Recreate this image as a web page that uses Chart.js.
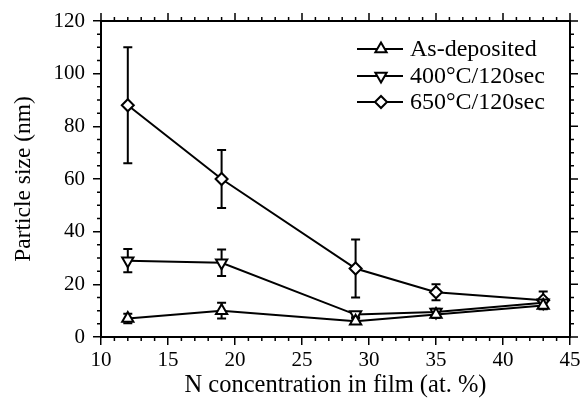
<!DOCTYPE html>
<html>
<head>
<meta charset="utf-8">
<script src="https://cdn.jsdelivr.net/npm/chart.js@4.4.0/dist/chart.umd.min.js"></script>
<style>
    html, body { margin: 0; padding: 0; background: #fff; }
    #contenitore { width: 587px; height: 400px; }
</style>
</head>
<body>
<div id="contenitore"><canvas id="grafico" width="587" height="400"></canvas></div>
<script>
// dati
var concentrazioni = [12, 19, 29, 35, 43];
var etichetteSerie = ['As-deposited', '400°C/120sec', '650°C/120sec'];
var asDeposited = [7, 10, 6, 8.5, 12];
var asDepositedErr = [1.8, 3, 1, 1.3, 1.5];
var ricotto400 = [29, 28.2, 8.5, 9.5, 13];
var ricotto400Err = [4.4, 5, 1, 1.2, 1.5];
var ricotto650 = [88, 60, 26, 17, 14];
var ricotto650Err = [22, 11, 11, 3, 3.3];
var tickX = [10, 15, 20, 25, 30, 35, 40, 45];
var tickY = [0, 20, 40, 60, 80, 100, 120];

var font = 'Liberation Serif';

function costruttorePunti(valori, errori) {
    var punti = [];
    for (var i = 0; i < concentrazioni.length; i++) {
        punti.push({x: concentrazioni[i], y: valori[i], err: errori[i]});
    }
    return punti;
}

function serie(label, valori, errori, stile, rotazione) {
    return {
        label: label,
        data: costruttorePunti(valori, errori),
        borderColor: '#000',
        borderWidth: 2,
        backgroundColor: '#fff',
        pointStyle: stile,
        pointRotation: rotazione,
        pointRadius: stile === 'rectRot' ? 6 : 6.5,
        pointBorderWidth: 2,
        pointBackgroundColor: '#fff',
        pointBorderColor: '#000',
        tension: 0,
        fill: false
    };
}

// barre di errore disegnate sotto i marker
var barreErrore = {
    id: 'barreErrore',
    beforeDatasetsDraw: function (chart) {
        var ctx = chart.ctx;
        var sx = chart.scales.x, sy = chart.scales.y;
        ctx.save();
        ctx.strokeStyle = '#000';
        ctx.lineWidth = 2;
        chart.data.datasets.forEach(function (ds) {
            ds.data.forEach(function (p) {
                var px = sx.getPixelForValue(p.x);
                var alto = sy.getPixelForValue(p.y + p.err);
                var basso = sy.getPixelForValue(p.y - p.err);
                ctx.beginPath();
                ctx.moveTo(px, alto); ctx.lineTo(px, basso);
                ctx.moveTo(px - 4.5, alto); ctx.lineTo(px + 4.5, alto);
                ctx.moveTo(px - 4.5, basso); ctx.lineTo(px + 4.5, basso);
                ctx.stroke();
            });
        });
        ctx.restore();
    }
};

// cornice, tacche secondarie e legenda
var cornice = {
    id: 'cornice',
    afterDraw: function (chart) {
        var ctx = chart.ctx;
        var a = chart.chartArea;
        var sx = chart.scales.x, sy = chart.scales.y;
        ctx.save();
        ctx.strokeStyle = '#000';
        ctx.lineWidth = 2;
        ctx.strokeRect(a.left, a.top, a.right - a.left, a.bottom - a.top);

        ctx.lineWidth = 1.5;
        ctx.beginPath();
        for (var v = 10; v <= 45; v++) {
            var px = sx.getPixelForValue(v);
            var lung = (v % 5 === 0) ? 8 : 4;
            if (v % 5 !== 0) {
                ctx.moveTo(px, a.bottom); ctx.lineTo(px, a.bottom + lung);
            }
            ctx.moveTo(px, a.top); ctx.lineTo(px, a.top - lung);
        }
        for (var w = 0; w <= 120; w += 5) {
            var py = sy.getPixelForValue(w);
            var l2 = (w % 20 === 0) ? 8 : 4;
            if (w % 20 !== 0) {
                ctx.moveTo(a.left, py); ctx.lineTo(a.left - l2, py);
            }
            ctx.moveTo(a.right, py); ctx.lineTo(a.right + l2, py);
        }
        ctx.stroke();

        // legenda
        var righe = [49, 76, 102];
        ctx.font = '24px "' + font + '"';
        ctx.textBaseline = 'middle';
        chart.data.datasets.forEach(function (ds, i) {
            var y = righe[i];
            ctx.lineWidth = 2;
            ctx.strokeStyle = '#000';
            ctx.beginPath();
            ctx.moveTo(357, y); ctx.lineTo(403, y);
            ctx.stroke();
            ctx.fillStyle = '#fff';
            Chart.helpers.drawPoint(ctx, {
                pointStyle: ds.pointStyle,
                rotation: ds.pointRotation,
                radius: ds.pointRadius,
                borderWidth: 2
            }, 381, y);
            ctx.fillStyle = '#000';
            ctx.fillText(ds.label, 410, y + 1);
        });
        ctx.restore();
    }
};

var ctx = document.getElementById('grafico');
var chart = new Chart(ctx, {
    type: 'line',
    data: {
        datasets: [
            serie(etichetteSerie[0], asDeposited, asDepositedErr, 'triangle', 0),
            serie(etichetteSerie[1], ricotto400, ricotto400Err, 'triangle', 180),
            serie(etichetteSerie[2], ricotto650, ricotto650Err, 'rectRot', 0)
        ]
    },
    options: {
        responsive: false,
        animation: false,
        devicePixelRatio: 1,
        layout: { padding: { top: 21, right: 17, left: 0, bottom: 0 } },
        plugins: { legend: { display: false }, tooltip: { enabled: false } },
        elements: { point: { backgroundColor: '#fff' } },
        scales: {
            x: {
                type: 'linear',
                min: 10,
                max: 45,
                afterFit: function (scale) { scale.height = 63; },
                afterBuildTicks: function (scale) {
                    scale.ticks = tickX.map(function (v) { return {value: v}; });
                },
                grid: { drawOnChartArea: false, drawTicks: true, tickLength: 8, color: '#000', lineWidth: 1.5 },
                border: { display: false },
                ticks: { color: '#000', padding: 3, maxRotation: 0, font: { family: font, size: 21 } },
                title: {
                    display: true,
                    text: 'N concentration in film (at. %)',
                    color: '#000',
                    padding: { top: 0, bottom: 0 },
                    font: { family: font, size: 24.5 }
                }
            },
            y: {
                type: 'linear',
                min: 0,
                max: 120,
                afterFit: function (scale) { scale.width = 101; },
                afterBuildTicks: function (scale) {
                    scale.ticks = tickY.map(function (v) { return {value: v}; });
                },
                grid: { drawOnChartArea: false, drawTicks: true, tickLength: 8, color: '#000', lineWidth: 1.5 },
                border: { display: false },
                ticks: { color: '#000', padding: 8, font: { family: font, size: 21 } },
                title: {
                    display: true,
                    text: 'Particle size (nm)',
                    color: '#000',
                    padding: { top: 10, bottom: 0 },
                    font: { family: font, size: 23.5 }
                }
            }
        }
    },
    plugins: [barreErrore, cornice]
});
</script>
</body>
</html>
